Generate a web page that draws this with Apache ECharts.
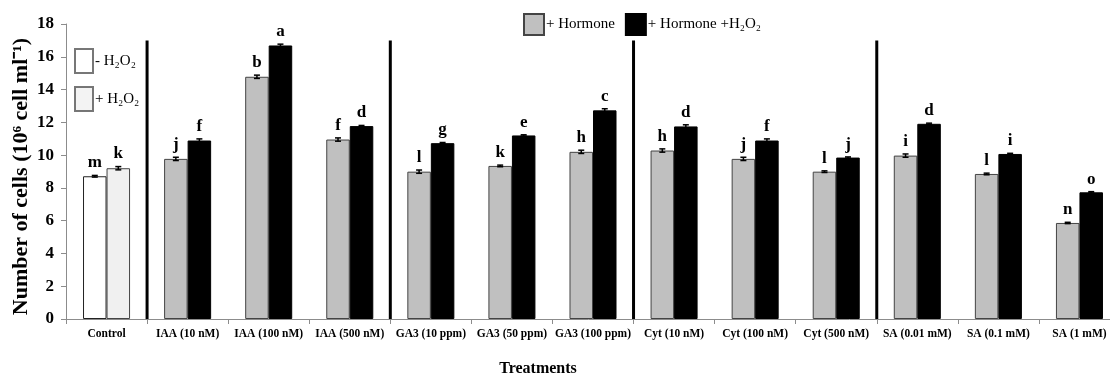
<!DOCTYPE html>
<html>
<head>
<meta charset="utf-8">
<script src="https://cdn.jsdelivr.net/npm/echarts@6/dist/echarts.min.js"></script>
<style>
html,body{margin:0;padding:0;background:#fff;}
#chart{width:1110px;height:376px;}
</style>
</head>
<body>
<div id="chart"></div>
<script>
var categories = ['Control','IAA (10 nM)','IAA (100 nM)','IAA (500 nM)','GA3 (10 ppm)','GA3 (50 ppm)','GA3 (100 ppm)','Cyt (10 nM)','Cyt (100 nM)','Cyt (500 nM)','SA (0.01 mM)','SA (0.1 mM)','SA (1 mM)'];
var hormone      = [8.71, 9.77, 14.78, 10.95, 8.99, 9.34, 10.20, 10.28, 9.77, 8.99, 9.97, 8.85, 5.86];
var hormoneH2O2  = [9.20, 10.89, 16.69, 11.77, 10.73, 11.20, 12.73, 11.75, 10.89, 9.85, 11.91, 10.07, 7.73];
var hormoneErr   = [0.05, 0.10, 0.10, 0.10, 0.10, 0.05, 0.10, 0.10, 0.10, 0.05, 0.10, 0.05, 0.04];
var hormoneH2O2Err = [0.10, 0.10, 0.08, 0.04, 0.04, 0.04, 0.10, 0.10, 0.10, 0.04, 0.04, 0.04, 0.04];
var lettersHormone = ['m','j','b','f','l','k','h','h','j','l','i','l','n'];
var lettersHormoneH2O2 = ['k','f','a','d','g','e','c','d','f','j','d','i','o'];
var yTicks = [0, 2, 4, 6, 8, 10, 12, 14, 16, 18];
var dividerPositions = [1, 4, 7, 10];
var dividerTop = 17;

var SERIF = '"Liberation Serif","Times New Roman",serif';
var chart = echarts.init(document.getElementById('chart'), null, {renderer:'canvas'});

var BAR_FRAC = 0.29;

function barData(vals, controlColor, controlBorder) {
  return vals.map(function (v, i) {
    if (i === 0) return {value: v, itemStyle: {color: controlColor, borderColor: controlBorder, borderWidth: 1}};
    return v;
  });
}

function errSeries(name, vals, errs, letters, side) {
  return {
    type: 'custom',
    name: name + ' err',
    xAxisIndex: 0,
    yAxisIndex: 0,
    silent: true,
    z: 5,
    data: vals.map(function (v, i) { return [i, v, errs[i]]; }),
    renderItem: function (params, api) {
      var i = api.value(0), v = api.value(1), e = api.value(2);
      var letter = letters[i];
      var catW = api.size([1, 0])[0];
      var bw = catW * BAR_FRAC;
      var cx = api.coord([i, v])[0] + side * bw / 2;
      var yTop = api.coord([i, v + e])[1];
      var yBot = api.coord([i, v - e])[1];
      var cap = 3;
      var st = {stroke: '#000', lineWidth: 1.5};
      return {
        type: 'group',
        children: [
          {type: 'line', shape: {x1: cx, y1: yTop, x2: cx, y2: yBot}, style: st},
          {type: 'line', shape: {x1: cx - cap, y1: yTop, x2: cx + cap, y2: yTop}, style: st},
          {type: 'line', shape: {x1: cx - cap, y1: yBot, x2: cx + cap, y2: yBot}, style: st},
          {type: 'text', x: cx, y: yTop - 4, style: {text: letter, fill: '#000', font: 'bold 17px ' + SERIF, textAlign: 'center', textVerticalAlign: 'bottom'}}
        ]
      };
    }
  };
}

var option = {
  animation: false,
  backgroundColor: '#fff',
  grid: {left: 66, top: 24, width: 1054, height: 295, outerBoundsMode: 'none', containLabel: false},
  title: {
    text: 'Treatments', left: 533, top: 356, textAlign: 'center',
    textStyle: {fontFamily: SERIF, fontWeight: 'bold', fontSize: 16, color: '#000'}
  },
  legend: [
    {
      data: ['+ Hormone', '+ Hormone +H₂O₂'],
      left: 523, top: 13, padding: 0,
      itemWidth: 20, itemHeight: 21, itemGap: 10,
      icon: 'rect',
      selectedMode: false,
      textStyle: {fontFamily: SERIF, fontSize: 15, color: '#000', padding: [0,0,0,-3]}
    },
    {
      data: ['- H₂O₂', '+ H₂O₂'],
      orient: 'vertical',
      left: 74, top: 48, padding: 0,
      itemWidth: 18, itemHeight: 24, itemGap: 12,
      icon: 'rect',
      selectedMode: false,
      textStyle: {fontFamily: SERIF, fontSize: 15, color: '#000', padding: [0,0,0,-3]}
    }
  ],
  xAxis: [
    {
      type: 'category',
      data: categories,
      axisLine: {lineStyle: {color: '#8c8c8c', width: 1}},
      axisTick: {show: true, length: 5, lineStyle: {color: '#8c8c8c'}},
      axisLabel: {fontFamily: SERIF, fontWeight: 'bold', fontSize: 11.5, color: '#000', margin: 9, interval: 0}
    },
    {
      type: 'value', min: 0, max: 13, show: false
    }
  ],
  yAxis: {
    type: 'value', min: yTicks[0], max: yTicks[yTicks.length - 1], interval: yTicks[1] - yTicks[0],
    name: 'Number of cells (10⁶ cell ml⁻¹)',
    nameLocation: 'middle', nameRotate: 90, nameGap: 34, nameMoveOverlap: false,
    nameTextStyle: {fontFamily: SERIF, fontWeight: 'bold', fontSize: 22, color: '#000', padding: [0, 10, 0, 0]},
    axisLine: {show: true, lineStyle: {color: '#8c8c8c', width: 1}},
    axisTick: {show: true, length: 5, lineStyle: {color: '#8c8c8c'}},
    splitLine: {show: false},
    axisLabel: {fontFamily: SERIF, fontWeight: 'bold', fontSize: 17, color: '#000', margin: 12}
  },
  series: [
    {
      type: 'bar', name: '+ Hormone',
      data: barData(hormone, '#ffffff', '#222'),
      barWidth: (BAR_FRAC * 100) + '%', barGap: '0%',
      itemStyle: {color: '#c0c0c0', borderColor: '#444', borderWidth: 1}
    },
    {
      type: 'bar', name: '+ Hormone +H₂O₂',
      data: barData(hormoneH2O2, '#f0f0f0', '#444'),
      barWidth: (BAR_FRAC * 100) + '%', barGap: '0%',
      itemStyle: {color: '#000000', borderColor: '#000', borderWidth: 1}
    },
    {
      type: 'scatter', name: '- H₂O₂', xAxisIndex: 1, data: [],
      itemStyle: {color: '#ffffff', borderColor: '#555', borderWidth: 1}
    },
    {
      type: 'scatter', name: '+ H₂O₂', xAxisIndex: 1, data: [],
      itemStyle: {color: '#f0f0f0', borderColor: '#555', borderWidth: 1}
    },
    errSeries('+ Hormone', hormone, hormoneErr, lettersHormone, -1),
    errSeries('+ Hormone +H₂O₂', hormoneH2O2, hormoneH2O2Err, lettersHormoneH2O2, 1),
    {
      type: 'custom', name: 'dividers', xAxisIndex: 1, yAxisIndex: 0, silent: true, z: 6,
      data: dividerPositions.map(function (p) { return [p, dividerTop]; }),
      renderItem: function (params, api) {
        var p0 = api.coord([api.value(0), 0]);
        var p1 = api.coord([api.value(0), api.value(1)]);
        return {type: 'line', shape: {x1: p0[0], y1: p0[1], x2: p1[0], y2: p1[1]}, style: {stroke: '#000', lineWidth: 3}};
      }
    }
  ]
};
chart.setOption(option);
</script>
</body>
</html>
